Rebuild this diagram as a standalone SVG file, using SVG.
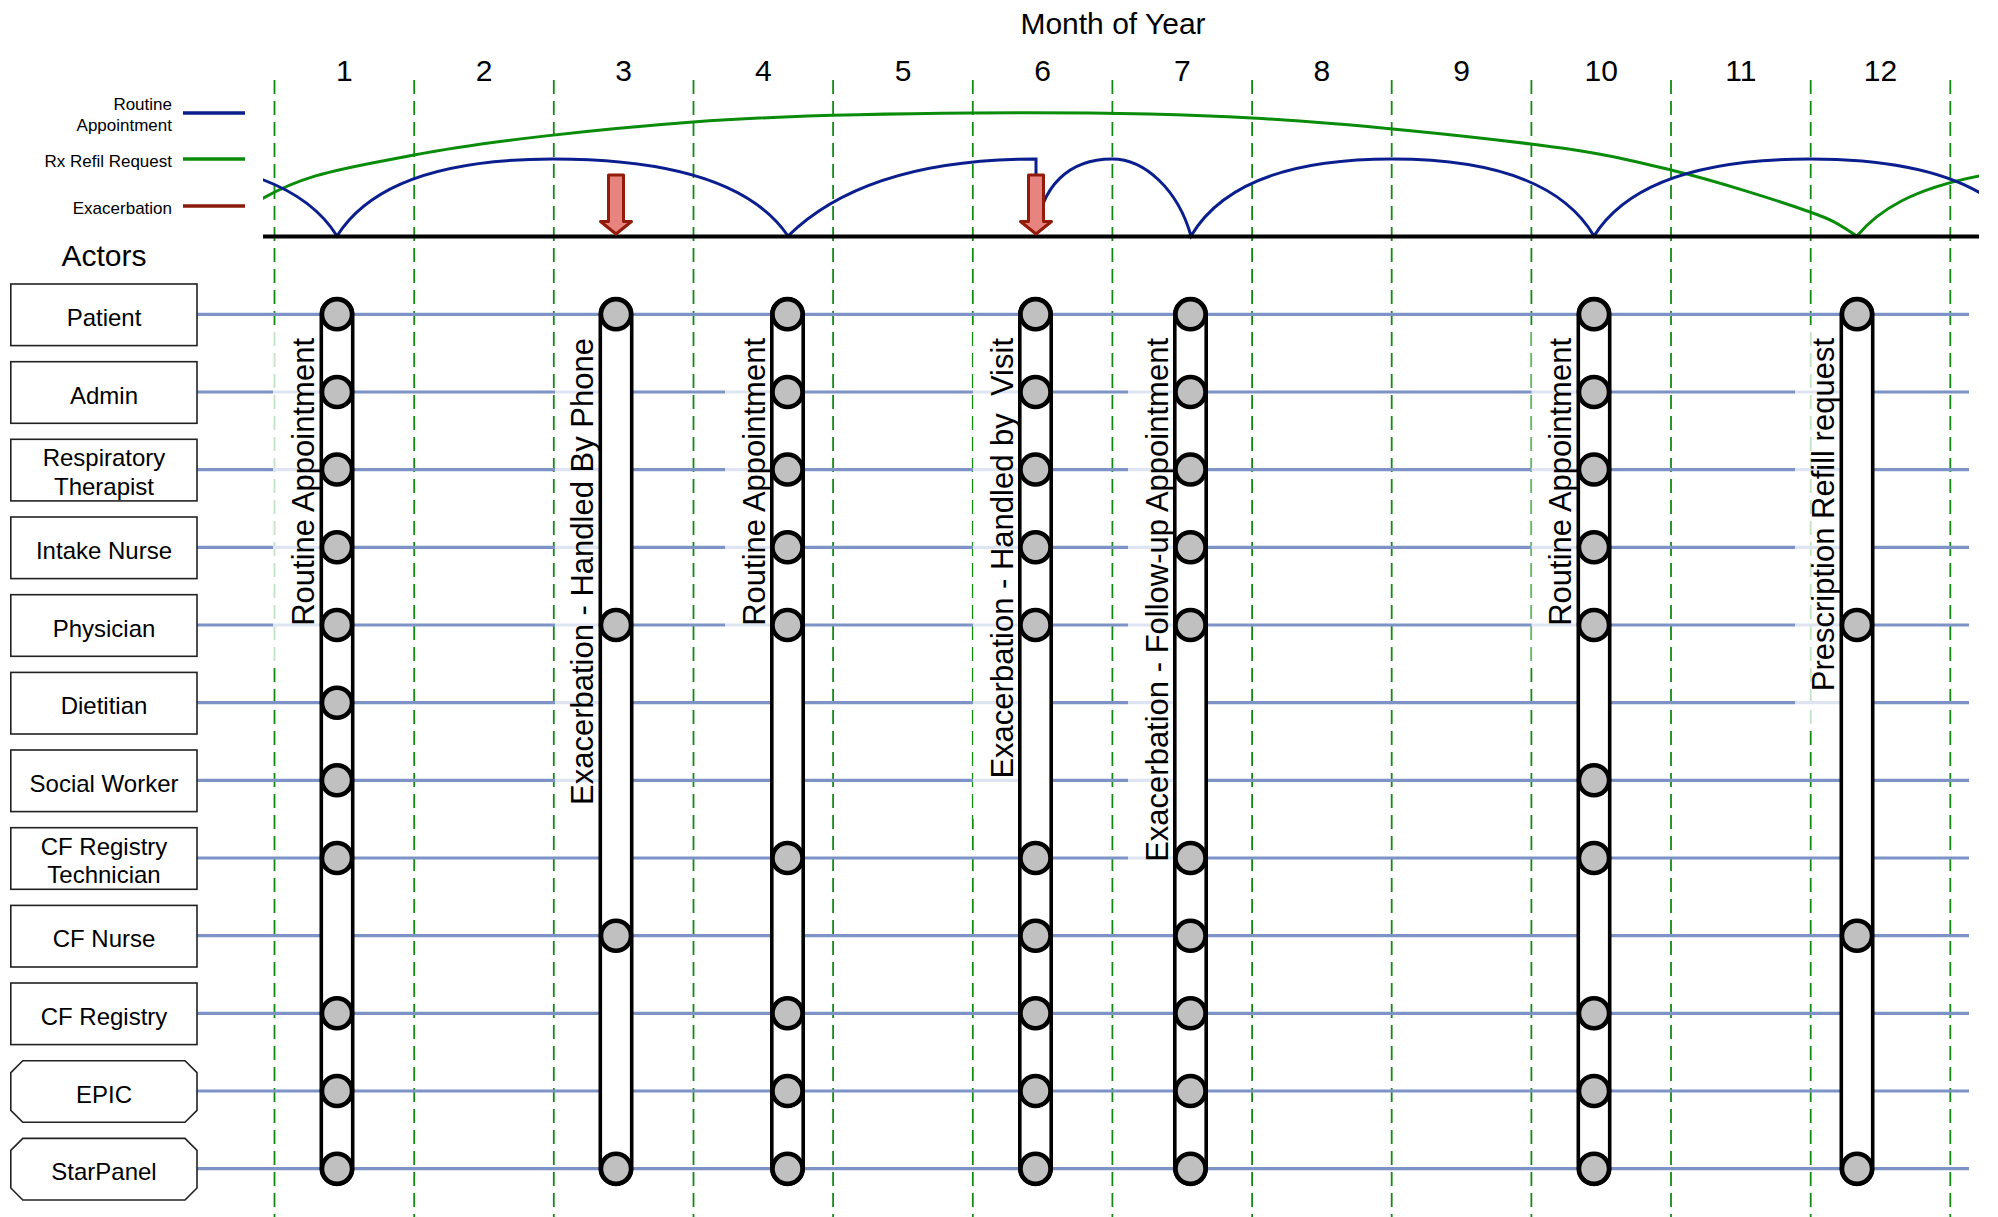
<svg xmlns="http://www.w3.org/2000/svg" width="1998" height="1217" viewBox="0 0 1998 1217">
<style>
text{font-family:"Liberation Sans",Arial,Helvetica,sans-serif;fill:#000}
.hdr{font-size:30px;text-anchor:middle}
.leg{font-size:17px;text-anchor:end}
.act{font-size:24px;text-anchor:middle}
.lbl{font-size:31px;text-anchor:end}
.box{fill:#fff;stroke:#222;stroke-width:1.6}
.month{stroke:#148a14;stroke-width:1.8;stroke-dasharray:14 7;fill:none}
.row{stroke:#7d93c6;stroke-width:3.2;fill:none}
.bg{fill:#fff;fill-opacity:0.75}
.pill{fill:#fff;stroke:#000;stroke-width:3.6}
.dot{fill:#c0c0c0;stroke:#000;stroke-width:4.5}
.blue{stroke:#0b1e8e;stroke-width:3;fill:none}
.green{stroke:#0a8c0a;stroke-width:3;fill:none}
.arrow{fill:#e8847f;stroke:#931b0b;stroke-width:3;stroke-linejoin:round}
</style>
<defs>
<clipPath id="tl"><rect x="263" y="60" width="1716" height="180"/></clipPath>
<circle id="c" r="15" class="dot"/>
</defs>

<!-- header -->
<text class="hdr" x="1113" y="34">Month of Year</text>
<g id="months">
<text class="hdr" x="344.3" y="81">1</text>
<text class="hdr" x="484" y="81">2</text>
<text class="hdr" x="623.6" y="81">3</text>
<text class="hdr" x="763.3" y="81">4</text>
<text class="hdr" x="903" y="81">5</text>
<text class="hdr" x="1042.6" y="81">6</text>
<text class="hdr" x="1182.3" y="81">7</text>
<text class="hdr" x="1321.9" y="81">8</text>
<text class="hdr" x="1461.5" y="81">9</text>
<text class="hdr" x="1601.2" y="81">10</text>
<text class="hdr" x="1740.9" y="81">11</text>
<text class="hdr" x="1880.5" y="81">12</text>
</g>

<!-- legend -->
<g id="legend">
<text class="leg" x="172" y="110">Routine</text>
<text class="leg" x="172" y="131">Appointment</text>
<line x1="183" y1="113" x2="245" y2="113" stroke="#0b1e8e" stroke-width="3.5"/>
<text class="leg" x="172" y="166.5">Rx Refil Request</text>
<line x1="183" y1="159" x2="245" y2="159" stroke="#0a8c0a" stroke-width="3.5"/>
<text class="leg" x="172" y="214">Exacerbation</text>
<line x1="183" y1="206" x2="245" y2="206" stroke="#8b1a0a" stroke-width="3.5"/>
</g>

<!-- month grid -->
<g id="grid">
<line class="month" x1="274.5" y1="80" x2="274.5" y2="1217"/>
<line class="month" x1="414.2" y1="80" x2="414.2" y2="1217"/>
<line class="month" x1="553.8" y1="80" x2="553.8" y2="1217"/>
<line class="month" x1="693.5" y1="80" x2="693.5" y2="1217"/>
<line class="month" x1="833.1" y1="80" x2="833.1" y2="1217"/>
<line class="month" x1="972.8" y1="80" x2="972.8" y2="1217"/>
<line class="month" x1="1112.4" y1="80" x2="1112.4" y2="1217"/>
<line class="month" x1="1252.1" y1="80" x2="1252.1" y2="1217"/>
<line class="month" x1="1391.7" y1="80" x2="1391.7" y2="1217"/>
<line class="month" x1="1531.4" y1="80" x2="1531.4" y2="1217"/>
<line class="month" x1="1671" y1="80" x2="1671" y2="1217"/>
<line class="month" x1="1810.7" y1="80" x2="1810.7" y2="1217"/>
<line class="month" x1="1950.3" y1="80" x2="1950.3" y2="1217"/>
</g>

<!-- connectors: actor swimlines -->
<g id="connectors">
<line class="row" x1="197" y1="314.3" x2="1969" y2="314.3"/>
<line class="row" x1="197" y1="392" x2="1969" y2="392"/>
<line class="row" x1="197" y1="469.6" x2="1969" y2="469.6"/>
<line class="row" x1="197" y1="547.3" x2="1969" y2="547.3"/>
<line class="row" x1="197" y1="625" x2="1969" y2="625"/>
<line class="row" x1="197" y1="702.7" x2="1969" y2="702.7"/>
<line class="row" x1="197" y1="780.3" x2="1969" y2="780.3"/>
<line class="row" x1="197" y1="858" x2="1969" y2="858"/>
<line class="row" x1="197" y1="935.7" x2="1969" y2="935.7"/>
<line class="row" x1="197" y1="1013.3" x2="1969" y2="1013.3"/>
<line class="row" x1="197" y1="1091" x2="1969" y2="1091"/>
<line class="row" x1="197" y1="1168.7" x2="1969" y2="1168.7"/>
</g>

<!-- label backgrounds -->
<g id="label-bg">
<rect class="bg" x="273" y="328" width="52" height="339.5"/>
<rect class="bg" x="555" y="328" width="48" height="517"/>
<rect class="bg" x="725" y="328" width="50" height="339.5"/>
<rect class="bg" x="973" y="328" width="50" height="491"/>
<rect class="bg" x="1128" y="328" width="50" height="575.5"/>
<rect class="bg" x="1531.5" y="328" width="50" height="339.5"/>
<rect class="bg" x="1795" y="328" width="50" height="403"/>
</g>

<!-- actors -->
<text class="hdr" x="104" y="266">Actors</text>
<g id="actor-patient"><rect class="box" x="10.8" y="284" width="186.2" height="61.6"/><text class="act" x="104" y="325.8">Patient</text></g>
<g id="actor-admin"><rect class="box" x="10.8" y="361.7" width="186.2" height="61.6"/><text class="act" x="104" y="403.5">Admin</text></g>
<g id="actor-rt"><rect class="box" x="10.8" y="439.3" width="186.2" height="61.6"/><text class="act" x="104" y="466.4">Respiratory</text><text class="act" x="104" y="494.8">Therapist</text></g>
<g id="actor-intake"><rect class="box" x="10.8" y="517" width="186.2" height="61.6"/><text class="act" x="104" y="558.8">Intake Nurse</text></g>
<g id="actor-physician"><rect class="box" x="10.8" y="594.7" width="186.2" height="61.6"/><text class="act" x="104" y="636.5">Physician</text></g>
<g id="actor-dietitian"><rect class="box" x="10.8" y="672.4" width="186.2" height="61.6"/><text class="act" x="104" y="714.2">Dietitian</text></g>
<g id="actor-social"><rect class="box" x="10.8" y="750" width="186.2" height="61.6"/><text class="act" x="104" y="791.8">Social Worker</text></g>
<g id="actor-cfrt"><rect class="box" x="10.8" y="827.7" width="186.2" height="61.6"/><text class="act" x="104" y="854.8">CF Registry</text><text class="act" x="104" y="883.2">Technician</text></g>
<g id="actor-cfnurse"><rect class="box" x="10.8" y="905.4" width="186.2" height="61.6"/><text class="act" x="104" y="947.2">CF Nurse</text></g>
<g id="actor-cfregistry"><rect class="box" x="10.8" y="983" width="186.2" height="61.6"/><text class="act" x="104" y="1024.8">CF Registry</text></g>
<g id="actor-epic"><polygon class="box" points="22.8,1060.7 185,1060.7 197,1072.7 197,1110.3 185,1122.3 22.8,1122.3 10.8,1110.3 10.8,1072.7"/><text class="act" x="104" y="1102.5">EPIC</text></g>
<g id="actor-starpanel"><polygon class="box" points="22.8,1138.4 185,1138.4 197,1150.4 197,1188 185,1200 22.8,1200 10.8,1188 10.8,1150.4"/><text class="act" x="104" y="1180.2">StarPanel</text></g>

<!-- events -->
<g id="event-1">
<rect class="pill" x="321.3" y="298.6" width="31.4" height="885.8" rx="15.7"/>
<use href="#c" x="337" y="314.3"/><use href="#c" x="337" y="392"/><use href="#c" x="337" y="469.6"/><use href="#c" x="337" y="547.3"/><use href="#c" x="337" y="625"/><use href="#c" x="337" y="702.7"/><use href="#c" x="337" y="780.3"/><use href="#c" x="337" y="858"/><use href="#c" x="337" y="1013.3"/><use href="#c" x="337" y="1091"/><use href="#c" x="337" y="1168.7"/>
<text class="lbl" transform="translate(314,338) rotate(-90)">Routine Appointment</text>
</g>
<g id="event-2">
<rect class="pill" x="600.3" y="298.6" width="31.4" height="885.8" rx="15.7"/>
<use href="#c" x="616" y="314.3"/><use href="#c" x="616" y="625"/><use href="#c" x="616" y="935.7"/><use href="#c" x="616" y="1168.7"/>
<text class="lbl" transform="translate(593,338) rotate(-90)">Exacerbation - Handled By Phone</text>
</g>
<g id="event-3">
<rect class="pill" x="771.8" y="298.6" width="31.4" height="885.8" rx="15.7"/>
<use href="#c" x="787.5" y="314.3"/><use href="#c" x="787.5" y="392"/><use href="#c" x="787.5" y="469.6"/><use href="#c" x="787.5" y="547.3"/><use href="#c" x="787.5" y="625"/><use href="#c" x="787.5" y="858"/><use href="#c" x="787.5" y="1013.3"/><use href="#c" x="787.5" y="1091"/><use href="#c" x="787.5" y="1168.7"/>
<text class="lbl" transform="translate(764.5,338) rotate(-90)">Routine Appointment</text>
</g>
<g id="event-4">
<rect class="pill" x="1019.8" y="298.6" width="31.4" height="885.8" rx="15.7"/>
<use href="#c" x="1035.5" y="314.3"/><use href="#c" x="1035.5" y="392"/><use href="#c" x="1035.5" y="469.6"/><use href="#c" x="1035.5" y="547.3"/><use href="#c" x="1035.5" y="625"/><use href="#c" x="1035.5" y="858"/><use href="#c" x="1035.5" y="935.7"/><use href="#c" x="1035.5" y="1013.3"/><use href="#c" x="1035.5" y="1091"/><use href="#c" x="1035.5" y="1168.7"/>
<text class="lbl" transform="translate(1012.5,338) rotate(-90)" style="white-space:pre">Exacerbation - Handled by  Visit</text>
</g>
<g id="event-5">
<rect class="pill" x="1174.8" y="298.6" width="31.4" height="885.8" rx="15.7"/>
<use href="#c" x="1190.5" y="314.3"/><use href="#c" x="1190.5" y="392"/><use href="#c" x="1190.5" y="469.6"/><use href="#c" x="1190.5" y="547.3"/><use href="#c" x="1190.5" y="625"/><use href="#c" x="1190.5" y="858"/><use href="#c" x="1190.5" y="935.7"/><use href="#c" x="1190.5" y="1013.3"/><use href="#c" x="1190.5" y="1091"/><use href="#c" x="1190.5" y="1168.7"/>
<text class="lbl" transform="translate(1167.5,338) rotate(-90)">Exacerbation - Follow-up Appointment</text>
</g>
<g id="event-6">
<rect class="pill" x="1578.3" y="298.6" width="31.4" height="885.8" rx="15.7"/>
<use href="#c" x="1594" y="314.3"/><use href="#c" x="1594" y="392"/><use href="#c" x="1594" y="469.6"/><use href="#c" x="1594" y="547.3"/><use href="#c" x="1594" y="625"/><use href="#c" x="1594" y="780.3"/><use href="#c" x="1594" y="858"/><use href="#c" x="1594" y="1013.3"/><use href="#c" x="1594" y="1091"/><use href="#c" x="1594" y="1168.7"/>
<text class="lbl" transform="translate(1571,338) rotate(-90)">Routine Appointment</text>
</g>
<g id="event-7">
<rect class="pill" x="1841.3" y="298.6" width="31.4" height="885.8" rx="15.7"/>
<use href="#c" x="1857" y="314.3"/><use href="#c" x="1857" y="625"/><use href="#c" x="1857" y="935.7"/><use href="#c" x="1857" y="1168.7"/>
<text class="lbl" transform="translate(1834,338) rotate(-90)">Prescription Refill request</text>
</g>

<!-- timeline -->
<g id="timeline">
<g clip-path="url(#tl)">
<path class="green" d="M250,206 C300,174 340.2,169 414,155 C487.8,141 600,129 693,122 C786,115 878.8,113.7 972,113 C1065.2,112.3 1158.8,112.8 1252,118 C1345.2,123.2 1461.2,135.3 1531,144 C1600.8,152.7 1624.5,158.7 1671,170 C1717.5,181.3 1779,201 1810,212 C1841,223 1840,226 1857,236 C1877,212 1910,188 1990,174"/>
<path class="blue" d="M121,159 C221,159 302,180 337,236 C372,180 453,159 553,159 C662,159 750,180 788,236 C840,185 921,159 1036,159 L1036,176"/>
<path class="blue" d="M1036,236 C1040,185 1070,159 1112,159 C1145,159 1178,190 1191,236 C1224,180 1299,159 1392,159 C1485.5,159 1561,180 1594,236 C1629,180 1710,159 1810,159 C1910,159 1991,180 2026,236"/>
</g>
<line x1="263" y1="236.5" x2="1979" y2="236.5" stroke="#000" stroke-width="4"/>
<polygon id="exacerbation-1" class="arrow" points="608.5,175 623.5,175 623.5,221.5 631.5,221.5 616,234 600.5,221.5 608.5,221.5"/>
<polygon id="exacerbation-2" class="arrow" points="1028.5,175 1043.5,175 1043.5,221.5 1051.5,221.5 1036,234 1020.5,221.5 1028.5,221.5"/>
</g>
</svg>
